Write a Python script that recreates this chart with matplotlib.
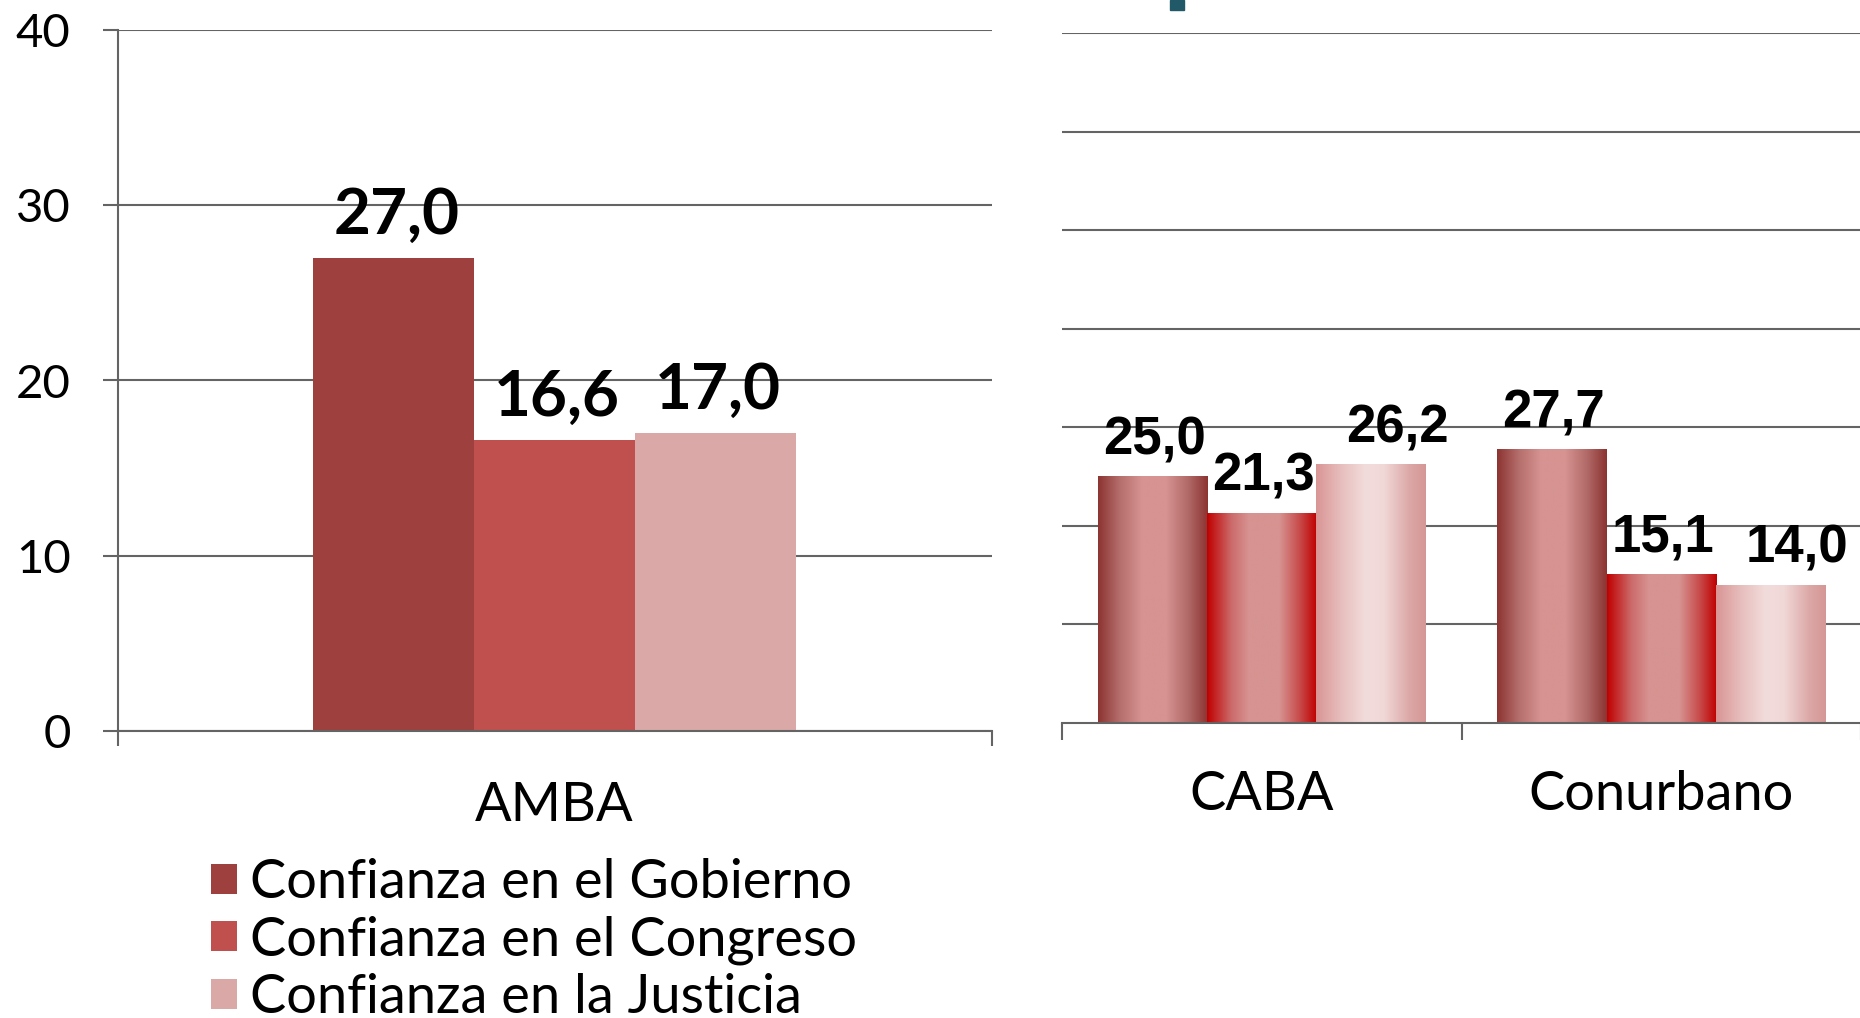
import matplotlib
matplotlib.use("Agg")
import matplotlib.pyplot as plt
import numpy as np
from matplotlib.colors import LinearSegmentedColormap
from matplotlib.patches import Rectangle

# data
series = ["Confianza en el Gobierno", "Confianza en el Congreso", "Confianza en la Justicia"]
left_cats = ["AMBA"]
left_vals = [[27.0], [16.6], [17.0]]
right_cats = ["CABA", "Conurbano"]
right_vals = [[25.0, 27.7], [21.3, 15.1], [26.2, 14.0]]
left_ticks = [0, 10, 20, 30, 40]
right_grid = [10, 20, 30, 40, 50, 60, 70]

flat_colors = ["#9E413E", "#C0504D", "#D9A8A7"]
grad_stops = [
    [(0.0, "#8C3432"), (0.2, "#B56F6D"), (0.4, "#D69391"), (0.62, "#D69391"),
     (0.82, "#B16A68"), (1.0, "#8C3432")],
    [(0.0, "#C00000"), (0.22, "#CC6A6A"), (0.38, "#D69391"), (0.66, "#D69391"),
     (0.85, "#C84848"), (1.0, "#C00000")],
    [(0.0, "#D99594"), (0.22, "#E6BDBC"), (0.45, "#F2DCDB"), (0.62, "#F0D8D7"),
     (0.85, "#DCA8A7"), (1.0, "#D59795")],
]

GRID = "#646464"
W, H = 1860, 1018

fig = plt.figure(figsize=(W / 100, H / 100), dpi=100)

def px_axes(l, r, t, b):
    return fig.add_axes([l / W, 1 - b / H, (r - l) / W, (b - t) / H])

# ---- left chart (flat bars) ----
ax1 = px_axes(117.5, 991.5, 30, 731)
bw1 = 0.184
for i, vals in enumerate(left_vals):
    xs = np.arange(len(left_cats)) + (i - 1) * bw1
    bars = ax1.bar(xs, vals, width=bw1, color=flat_colors[i], label=series[i], zorder=2)
    for b, v in zip(bars, vals):
        ax1.annotate(f"{v:.1f}".replace(".", ","), (b.get_x() + b.get_width() / 2, v),
                     xytext=(2, 17.5), textcoords="offset points", ha="center", va="baseline",
                     fontsize=46, fontweight="bold", family=["Lato", "DejaVu Sans"], zorder=3)
ax1.set_xlim(-0.5, 0.5)
ax1.set_ylim(0, 40)
ax1.set_yticks(left_ticks)
ax1.set_yticklabels([str(t) for t in left_ticks], fontsize=34, family=["Lato", "DejaVu Sans"])
ax1.set_xticks([-0.5, 0.5])
ax1.set_xticklabels([])
ax1.set_xticks([0], minor=True)
ax1.set_xticklabels(left_cats, minor=True, fontsize=39, family=["Lato", "DejaVu Sans"])
ax1.tick_params(axis="y", direction="out", length=10.8, width=1.5, color=GRID, pad=23)
ax1.tick_params(axis="x", which="major", direction="out", length=10.8, width=1.5, color=GRID)
ax1.tick_params(axis="x", which="minor", length=0, pad=36)
ax1.yaxis.grid(True, color=GRID, linewidth=1.5, zorder=1)
ax1.set_axisbelow(True)
for s in ["top", "right"]:
    ax1.spines[s].set_visible(False)
for s in ["left", "bottom"]:
    ax1.spines[s].set_color(GRID)
    ax1.spines[s].set_linewidth(1.5)

# ---- right chart (gradient bars) ----
ax2 = px_axes(1062, 1861, 33, 723)
bw2 = 0.274
grad = np.linspace(0, 1, 256).reshape(1, -1)
for i, vals in enumerate(right_vals):
    xs = np.arange(len(right_cats)) + (i - 1) * bw2
    bars = ax2.bar(xs, vals, width=bw2, color="none", zorder=2)
    cmap = LinearSegmentedColormap.from_list(f"g{i}", grad_stops[i])
    dx = 19 if i == 2 else 1.5
    for b, v in zip(bars, vals):
        x0 = b.get_x()
        ax2.imshow(grad, cmap=cmap, extent=(x0, x0 + b.get_width(), 0, v),
                   aspect="auto", zorder=2, interpolation="bilinear")
        ax2.annotate(f"{v:.1f}".replace(".", ","), (x0 + b.get_width() / 2, v),
                     xytext=(dx, 16), textcoords="offset points", ha="center", va="baseline",
                     fontsize=38, fontweight="bold", family=["Liberation Sans", "DejaVu Sans"],
                     zorder=3)
ax2.set_xlim(-0.5, 1.5)
ax2.set_ylim(0, 70)
ax2.set_yticks(right_grid)
ax2.set_yticklabels([])
ax2.tick_params(axis="y", length=0)
ax2.set_xticks([-0.5, 0.5, 1.5])
ax2.set_xticklabels([])
ax2.set_xticks([0, 1], minor=True)
ax2.set_xticklabels(right_cats, minor=True, fontsize=39, family=["Lato", "DejaVu Sans"])
ax2.tick_params(axis="x", which="major", direction="out", length=12, width=1.5, color=GRID)
ax2.tick_params(axis="x", which="minor", length=0, pad=34)
ax2.yaxis.grid(True, color=GRID, linewidth=1.5, zorder=1)
ax2.set_axisbelow(True)
for s in ["top", "right", "left"]:
    ax2.spines[s].set_visible(False)
ax2.spines["bottom"].set_color(GRID)
ax2.spines["bottom"].set_linewidth(1.5)

# legend
fig.legend(loc="upper left", bbox_to_anchor=(211 / W, 1 - 858 / H), frameon=False,
           borderpad=0, borderaxespad=0, handlelength=0.48, handleheight=0.48,
           handletextpad=0.24, labelspacing=0.155,
           prop={"family": ["Lato", "DejaVu Sans"], "size": 39})

# fragment of the slide title cut at the top edge
fig.add_artist(Rectangle((1170 / W, 1 - 10 / H), 14 / W, 10 / H,
                         transform=fig.transFigure, color="#215968"))

fig.savefig("out.png", dpi=100)
